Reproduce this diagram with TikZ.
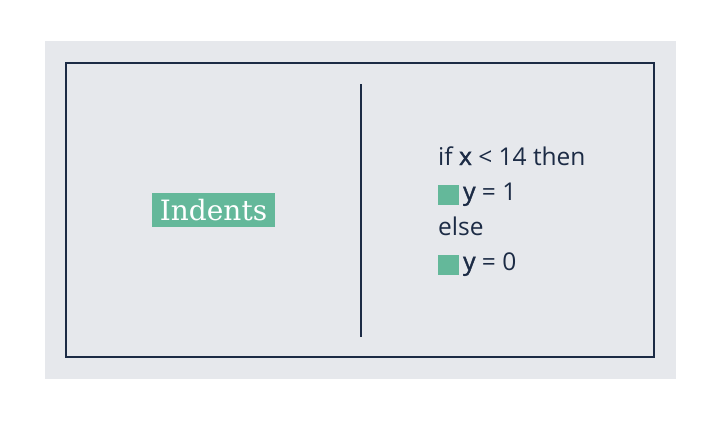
\documentclass[tikz,border=0pt]{standalone}
\usepackage{fontspec}
\setmainfont{Open Sans}
\newfontfamily\labelfont{DejaVu Serif}
\newfontfamily\semibf[FakeBold=1.6]{Open Sans}
\newcommand{\var}[1]{{\semibf #1}}
\definecolor{panelgray}{HTML}{E6E8EC}
\definecolor{navy}{HTML}{1C2B45}
\definecolor{mint}{HTML}{64B89A}
\begin{document}
\begin{tikzpicture}[x=1pt,y=-1pt,
    mark box/.style={fill=mint, minimum width=21pt, minimum height=20pt, inner sep=0pt},
    code line/.style={anchor=base west, inner sep=0pt, text=navy, font=\fontsize{24.5}{28}\selectfont},
  ]
  \useasboundingbox (0,0) rectangle (721,421);
  \fill[panelgray] (45,41) rectangle (676,379);
  \draw[navy, line width=1.3pt] (66,63) rectangle (654,357);
  \draw[navy, line width=1.3pt] (361,84) -- (361,337);
  \begin{scope}
    \node[fill=mint, text=white, minimum width=123pt, minimum height=34pt,
      inner sep=0pt, font=\labelfont\fontsize{28}{32}\selectfont]
      (indents) at (213.5,210) {Indents};
  \end{scope}
  \begin{scope}
    \node[code line] (cond) at (438,165) {if \var{x} < 14 then};
    \node[mark box, anchor=north west] (mark1) at (438,185) {};
    \node[code line] (then) at (463,200) {\var{y} = 1};
    \node[code line] (else) at (438,235) {else};
    \node[mark box, anchor=north west] (mark2) at (438,255) {};
    \node[code line] (other) at (463,270) {\var{y} = 0};
  \end{scope}
\end{tikzpicture}
\end{document}
